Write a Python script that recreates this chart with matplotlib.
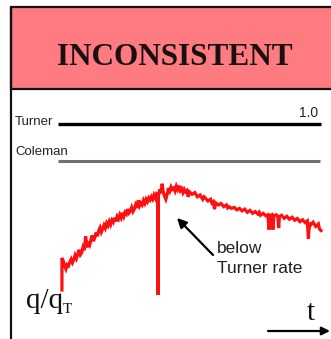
import matplotlib
matplotlib.use('Agg')
import matplotlib.pyplot as plt
from matplotlib.patches import Rectangle

# ---------------- data ----------------
title = "INCONSISTENT"
turner_rate = 1.0
coleman_rate = 0.85
line_labels = ["Turner", "Coleman"]
turner_tick_label = "1.0"
annotation_lines = ["below", "Turner rate"]

time = [1.5, 1.5, 2.0, 2.5, 3.0, 3.5, 4.0, 4.5, 5.0, 5.5,
        6.0, 6.5, 7.0, 7.5, 8.0, 8.5, 9.0, 9.5, 10.0, 10.5,
        11.0, 11.5, 12.0, 12.5, 13.0, 13.5, 14.0, 14.5, 15.0, 15.5,
        16.0, 16.5, 17.0, 17.5, 18.0, 18.5, 19.0, 19.5, 20.0, 20.5,
        21.0, 21.5, 22.0, 22.5, 23.0, 23.5, 24.0, 24.5, 25.0, 25.5,
        26.0, 26.5, 27.0, 27.5, 28.0, 28.5, 29.0, 29.5, 30.0, 30.5,
        31.0, 31.5, 32.0, 32.5, 33.0, 33.5, 34.0, 34.5, 35.0, 35.5,
        36.0, 36.5, 37.0, 37.5, 37.9, 38.0, 38.2, 38.7, 39.2, 39.6,
        40.0, 40.5, 41.0, 41.5, 42.0, 42.5, 43.0, 43.5, 44.0, 44.5,
        45.0, 45.5, 46.0, 46.5, 47.0, 47.5, 48.0, 48.5, 49.0, 49.5,
        50.0, 51.0, 52.0, 53.0, 54.0, 55.0, 55.5, 56.0, 57.0, 58.0,
        58.5, 59.0, 59.5, 60.0, 61.0, 62.0, 63.0, 64.0, 64.5, 65.0,
        66.0, 67.0, 68.0, 69.0, 70.0, 71.0, 72.0, 73.0, 74.0, 75.0,
        76.0, 76.5, 77.0, 78.0, 79.0, 79.8, 80.2, 80.6, 81.3, 81.7,
        82.1, 83.0, 83.6, 83.9, 84.2, 85.0, 86.0, 87.0, 88.0, 89.0,
        90.0, 91.0, 92.0, 93.0, 94.0, 94.8, 95.2, 95.6, 96.0, 97.0,
        98.0, 99.0, 99.4, 100.0]
q_ratio = [0.327, 0.457, 0.445, 0.425, 0.412, 0.430, 0.425, 0.440, 0.452, 0.438,
           0.450, 0.468, 0.455, 0.472, 0.490, 0.470, 0.478, 0.500, 0.488, 0.545,
           0.500, 0.515, 0.508, 0.530, 0.548, 0.525, 0.540, 0.560, 0.545, 0.568,
           0.580, 0.562, 0.575, 0.590, 0.578, 0.598, 0.588, 0.605, 0.592, 0.610,
           0.602, 0.620, 0.605, 0.625, 0.615, 0.632, 0.620, 0.640, 0.625, 0.642,
           0.635, 0.655, 0.640, 0.648, 0.662, 0.645, 0.655, 0.672, 0.660, 0.690,
           0.668, 0.680, 0.672, 0.690, 0.678, 0.695, 0.685, 0.700, 0.692, 0.705,
           0.695, 0.712, 0.700, 0.718, 0.715, 0.307, 0.710, 0.735, 0.720, 0.758,
           0.725, 0.708, 0.695, 0.715, 0.740, 0.728, 0.745, 0.735, 0.740, 0.728,
           0.748, 0.735, 0.750, 0.730, 0.738, 0.722, 0.735, 0.725, 0.730, 0.705,
           0.725, 0.715, 0.722, 0.705, 0.712, 0.695, 0.705, 0.700, 0.688, 0.695,
           0.680, 0.685, 0.655, 0.680, 0.672, 0.678, 0.665, 0.672, 0.660, 0.665,
           0.658, 0.662, 0.652, 0.658, 0.648, 0.655, 0.642, 0.650, 0.638, 0.645,
           0.635, 0.642, 0.630, 0.638, 0.628, 0.632, 0.572, 0.628, 0.632, 0.572,
           0.628, 0.632, 0.625, 0.578, 0.625, 0.630, 0.618, 0.626, 0.614, 0.622,
           0.610, 0.617, 0.604, 0.612, 0.600, 0.607, 0.535, 0.600, 0.590, 0.602,
           0.585, 0.595, 0.575, 0.568]
assert len(time) == len(q_ratio)

# ---------------- layout ----------------
W, H = 331, 339
fig = plt.figure(figsize=(W / 100, H / 100), dpi=100)

bg = fig.add_axes([0, 0, 1, 1])
bg.set_xlim(0, W)
bg.set_ylim(H, 0)
bg.axis('off')

# header band
bg.add_patch(Rectangle((11, 7), 335, 82, facecolor='#FF7B82',
                       edgecolor='#111111', lw=1.6, zorder=1))
bg.plot([11, 11], [7, H + 5], color='#111111', lw=1.6, zorder=2,
        solid_capstyle='butt')
bg.text(175, 65, title, family='Liberation Serif', weight='bold',
        size=22.5, ha='center', va='baseline', color='#1a1010')

# data axes: px x 11..331, y 89..339
PX_T0, PX_PER_T = 58.0, 2.63
PX_TURNER, PX_PER_Q = 124.0, 246.7
ax = fig.add_axes([11 / W, 0, (W - 11) / W, (H - 89) / H])
ax.set_xlim((11 - PX_T0) / PX_PER_T, (W - PX_T0) / PX_PER_T)
ax.set_ylim(turner_rate - (H - PX_TURNER) / PX_PER_Q,
            turner_rate + (PX_TURNER - 89) / PX_PER_Q)
ax.axis('off')
ax.patch.set_alpha(0)

ax.hlines(turner_rate, 0, 100, color='black', lw=2.4)
ax.hlines(coleman_rate, 0, 99.6, color='#707070', lw=2.2)
ax.plot(time, q_ratio, color='#FF1010', lw=2.3, solid_joinstyle='miter')

# labels
font_sans = 'Liberation Sans'
bg.text(15, 125, line_labels[0], family=font_sans, size=9.5,
        ha='left', va='baseline', color='#222222')
bg.text(15, 155, line_labels[1], family=font_sans, size=9.5,
        ha='left', va='baseline', color='#222222')
bg.text(318, 117, turner_tick_label, family=font_sans, size=10,
        ha='right', va='baseline', color='#222222')
bg.text(217, 253, annotation_lines[0], family=font_sans, size=12.5,
        ha='left', va='baseline', color='#222222')
bg.text(217, 273, annotation_lines[1], family=font_sans, size=12.5,
        ha='left', va='baseline', color='#222222')
bg.annotate('', xy=(177, 218), xytext=(213, 255),
            arrowprops=dict(arrowstyle='-|>', color='black', lw=1.6,
                            mutation_scale=14, shrinkA=0, shrinkB=0))

# axis labels
bg.text(26, 308, 'q/q', family='Liberation Serif', size=21,
        ha='left', va='baseline', color='#111111')
bg.text(63, 313, 'T', family='Liberation Serif', size=11,
        ha='left', va='baseline', color='#111111')
bg.text(307, 320, 't', family='Liberation Serif', size=21,
        ha='left', va='baseline', color='#111111')
bg.annotate('', xy=(330, 331), xytext=(268, 331),
            arrowprops=dict(arrowstyle='-|>', color='black', lw=1.6,
                            mutation_scale=12, shrinkA=0, shrinkB=0),
            annotation_clip=False)

fig.savefig('out.png', dpi=100)
